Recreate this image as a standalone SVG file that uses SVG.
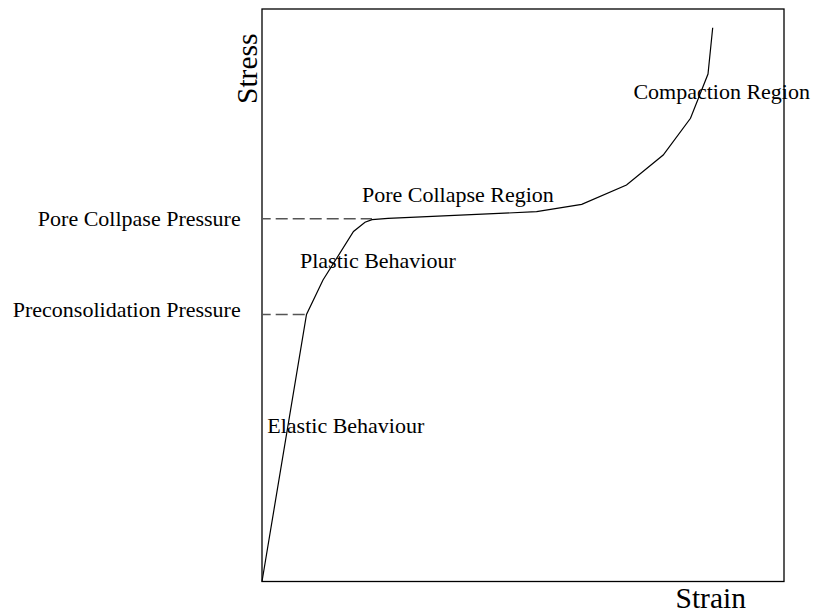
<svg xmlns="http://www.w3.org/2000/svg" width="816" height="613" viewBox="0 0 816 613">
<style>
text{font-family:"Liberation Serif","Times New Roman",serif;fill:#000}
.lbl{font-size:22px}
.axis{font-size:29.5px}
.dash{stroke:#555;stroke-width:1.4;stroke-dasharray:12,5;stroke-dashoffset:3.3;fill:none}
.line{stroke:#000;stroke-width:1.2;fill:none}
</style>
<rect width="816" height="613" fill="#fff"/>
<g id="frame"><rect x="262" y="9" width="522" height="572.5" fill="none" stroke="#000" stroke-width="1.3"/></g>
<g id="axis-stress"><text class="axis" transform="translate(256.5,104) rotate(-90)">Stress</text></g>
<g id="axis-strain"><text class="axis" x="675.5" y="607.5">Strain</text></g>
<g id="label-pore-collapse-pressure"><text class="lbl" x="240.7" y="225.5" text-anchor="end">Pore Collpase Pressure</text></g>
<g id="label-preconsolidation-pressure"><text class="lbl" x="240.7" y="316.7" text-anchor="end">Preconsolidation Pressure</text></g>
<g id="label-elastic"><text class="lbl" x="267.3" y="432.7">Elastic Behaviour</text></g>
<g id="label-plastic"><text class="lbl" x="300" y="267.7">Plastic Behaviour</text></g>
<g id="label-pore-collapse-region"><text class="lbl" x="362" y="201.7">Pore Collapse Region</text></g>
<g id="label-compaction"><text class="lbl" x="633.4" y="99.3">Compaction Region</text></g>
<g id="connectors">
<path class="dash" d="M262 218.8H372"/>
<path class="dash" d="M262 314.5H306"/>
<path class="line" d="M262 581.5L306.5 314.5L323 280L353.5 231.5L365 222.3L372 219.7L388 218.4L536.6 211.7L581.7 204.3L626.5 185L663.2 155L690.5 118.3L708 74L712.7 27.7"/>
</g>
</svg>
